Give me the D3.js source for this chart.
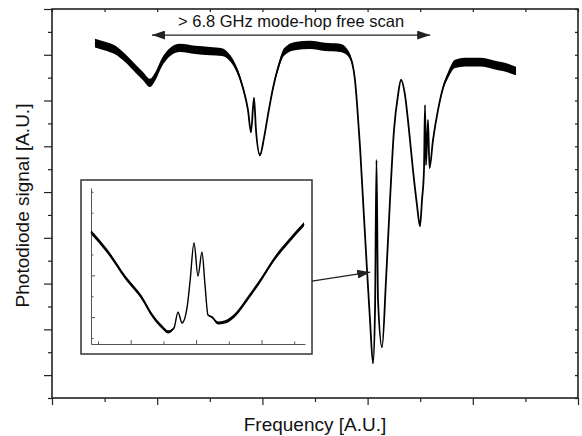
<!DOCTYPE html>
<html>
<head>
<meta charset="utf-8">
<script src="https://cdn.jsdelivr.net/npm/d3@7"></script>
<style>
  body { margin: 0; background: #fff; }
  svg { display: block; font-family: "Liberation Sans", Arial, sans-serif; }
</style>
</head>
<body>
<svg id="chart" width="582" height="436"></svg>
<script>
// main spectrum (frequency / photodiode signal, arbitrary units)
const freq = [
  0.817, 1.008, 1.198, 1.388, 1.578, 1.730, 1.863, 1.958, 2.091, 2.243,
  2.433, 2.719, 3.004, 3.232, 3.384, 3.517, 3.631, 3.726, 3.783, 3.840,
  3.878, 3.954, 4.030, 4.106, 4.202, 4.297, 4.411, 4.620, 4.905, 5.190,
  5.475, 5.608, 5.703, 5.760, 5.798, 5.856, 5.913, 5.989, 6.046, 6.103,
  6.141, 6.169, 6.198, 6.274, 6.350, 6.426, 6.502, 6.578, 6.635, 6.711,
  6.787, 6.863, 6.939, 6.996, 7.034, 7.072, 7.091, 7.110, 7.148, 7.177,
  7.243, 7.338, 7.433, 7.529, 7.662, 7.852, 8.137, 8.422, 8.669, 8.821
];
const signal = [
  14.51, 14.38, 14.21, 13.86, 13.42, 13.07, 12.77, 13.03, 13.68, 14.12,
  14.30, 14.21, 14.16, 14.12, 13.86, 13.33, 12.55, 11.58, 10.62, 12.11,
  10.71, 9.62, 10.36, 11.37, 12.55, 13.42, 14.12, 14.38, 14.43, 14.34,
  14.30, 14.12, 13.68, 12.90, 11.89, 9.97, 7.65, 4.59, 2.40, 0.52,
  2.84, 9.40, 3.28, 1.22, 4.15, 7.65, 10.71, 12.24, 12.90, 12.24,
  10.71, 8.96, 7.43, 6.51, 7.65, 8.96, 11.80, 9.18, 11.15, 9.05,
  10.27, 11.58, 12.55, 13.11, 13.60, 13.68, 13.68, 13.55, 13.42, 13.29
];
// half-width of the noise band around the signal
const noise = [
  0.19, 0.19, 0.19, 0.18, 0.18, 0.18, 0.18, 0.18, 0.18, 0.18,
  0.18, 0.18, 0.18, 0.17, 0.14, 0.12, 0.10, 0.08, 0.06, 0.04,
  0.06, 0.06, 0.06, 0.07, 0.09, 0.12, 0.16, 0.18, 0.18, 0.18,
  0.18, 0.14, 0.10, 0.06, 0.04, 0.04, 0.04, 0.04, 0.04, 0.04,
  0.04, 0.02, 0.02, 0.04, 0.04, 0.04, 0.04, 0.04, 0.04, 0.04,
  0.04, 0.04, 0.04, 0.04, 0.04, 0.04, 0.02, 0.02, 0.02, 0.04,
  0.04, 0.07, 0.10, 0.14, 0.18, 0.19, 0.19, 0.19, 0.19, 0.19
];

// inset: zoom on the deep absorption feature
const insetFreq = [
  -0.214, 0.306, 0.826, 1.346, 1.651, 1.957, 2.141, 2.324, 2.446, 2.569,
  2.722, 2.813, 2.936, 3.058, 3.180, 3.272, 3.364, 3.486, 3.670, 3.884,
  4.190, 4.587, 5.015, 5.413, 5.810, 6.300
];
const insetSignal = [
  5.07, 4.11, 2.92, 1.91, 1.10, 0.53, 0.29, 0.48, 1.24, 0.72,
  1.44, 2.68, 4.55, 2.97, 4.11, 2.54, 1.10, 1.00, 0.72, 0.77,
  1.10, 1.91, 2.87, 3.83, 4.59, 5.45
];
const insetNoise = [
  0.10, 0.10, 0.10, 0.10, 0.10, 0.09, 0.08, 0.04, 0.02, 0.02,
  0.02, 0.02, 0.02, 0.02, 0.02, 0.02, 0.04, 0.05, 0.07, 0.08,
  0.09, 0.10, 0.10, 0.10, 0.10, 0.10
];

const xMajorTicks = [0, 2, 4, 6, 8, 10];
const xMinorTicks = [1, 3, 5, 7, 9];
const yMajorTicks = [0, 2, 4, 6, 8, 10, 12, 14, 16];
const yMinorTicks = [-1, 1, 3, 5, 7, 9, 11, 13, 15];
const insetXMajor = [1, 3, 5];
const insetXMinor = [0, 2, 4, 6];
const insetYMajor = [1, 3, 5];
const insetYMinor = [0, 2, 4, 6, 7];

// annotations (data units)
const scanArrow = { from: 1.90, to: 7.19, level: 14.86, label: "> 6.8 GHz mode-hop free scan" };
const zoomArrow = { from: [4.94, 4.11], to: [6.05, 4.50] };

const margin = { top: 9, right: 4, bottom: 38, left: 52 };
const width = 582 - margin.left - margin.right;
const height = 436 - margin.top - margin.bottom;

const svg = d3.select("#chart");

const defs = svg.append("defs");
defs.append("marker")
  .attr("id", "head")
  .attr("viewBox", "0 0 13 9")
  .attr("refX", 13)
  .attr("refY", 4.5)
  .attr("markerWidth", 13)
  .attr("markerHeight", 9)
  .attr("markerUnits", "userSpaceOnUse")
  .attr("orient", "auto-start-reverse")
  .append("path")
  .attr("d", "M0,0L13,4.5L0,9Z")
  .attr("fill", "#222");

const chart = svg
  .append("g")
  .attr("transform", `translate(${margin.left},${margin.top})`);

const x = d3.scaleLinear().domain([0, 10]).range([0, width]);
const y = d3.scaleLinear().domain([-1, 16]).range([height, 0]);

function tickAxis(axis, values, size) {
  return (g) => {
    g.call(axis.tickValues(values).tickSize(size).tickSizeOuter(0).tickFormat(""));
    g.select(".domain").remove();
    g.selectAll(".tick line").attr("stroke", "#222").attr("stroke-width", 1.2);
  };
}

// outward ticks: left & bottom
chart.append("g").call(tickAxis(d3.axisLeft(y), yMajorTicks, 8));
chart.append("g").call(tickAxis(d3.axisLeft(y), yMinorTicks, 4));
chart.append("g").attr("transform", `translate(0,${height})`)
  .call(tickAxis(d3.axisBottom(x), xMajorTicks, 7));
chart.append("g").attr("transform", `translate(0,${height})`)
  .call(tickAxis(d3.axisBottom(x), xMinorTicks, 4));
// inward ticks: right & top
chart.append("g").attr("transform", `translate(${width},0)`)
  .call(tickAxis(d3.axisLeft(y), yMajorTicks.concat(yMinorTicks), 3));
chart.append("g")
  .call(tickAxis(d3.axisBottom(x), xMajorTicks.concat(xMinorTicks), 3));

chart.append("rect")
  .attr("width", width)
  .attr("height", height)
  .attr("fill", "none")
  .attr("stroke", "#222")
  .attr("stroke-width", 1.6);

// spectrum
const spectrum = freq.map((f, i) => ({ f, s: signal[i], n: noise[i] }));

chart.append("path")
  .datum(spectrum)
  .attr("fill", "#000")
  .attr("d", d3.area()
    .curve(d3.curveMonotoneX)
    .x((d) => x(d.f))
    .y0((d) => y(d.s - d.n))
    .y1((d) => y(d.s + d.n)));

chart.append("path")
  .datum(spectrum)
  .attr("fill", "none")
  .attr("stroke", "#000")
  .attr("stroke-width", 1.8)
  .attr("stroke-linejoin", "round")
  .attr("d", d3.line().curve(d3.curveMonotoneX).x((d) => x(d.f)).y((d) => y(d.s)));

// scan range arrow + label
chart.append("line")
  .attr("x1", x(scanArrow.from))
  .attr("x2", x(scanArrow.to))
  .attr("y1", y(scanArrow.level))
  .attr("y2", y(scanArrow.level))
  .attr("stroke", "#222")
  .attr("stroke-width", 1.3)
  .attr("marker-start", "url(#head)")
  .attr("marker-end", "url(#head)");

chart.append("text")
  .attr("x", x((scanArrow.from + scanArrow.to) / 2))
  .attr("y", y(scanArrow.level) - 8)
  .attr("text-anchor", "middle")
  .attr("font-size", 16.5)
  .attr("fill", "#111")
  .text(scanArrow.label);

// inset
const inset = { left: 29, top: 171, width: 231, height: 174 };
const insetG = chart.append("g")
  .attr("transform", `translate(${inset.left},${inset.top})`);

insetG.append("rect")
  .attr("width", inset.width)
  .attr("height", inset.height)
  .attr("fill", "#fff")
  .attr("stroke", "#333")
  .attr("stroke-width", 1.5);

const ix = d3.scaleLinear().domain([-0.214, 6.33]).range([10, 224]);
const iy = d3.scaleLinear().domain([-0.287, 7.18]).range([164, 8]);

function insetAxis(axis, values, size, keepDomain) {
  return (g) => {
    g.call(axis.tickValues(values).tickSize(size).tickSizeOuter(0).tickFormat(""));
    if (!keepDomain) g.select(".domain").remove();
    g.selectAll("path, line").attr("stroke", "#555").attr("stroke-width", 1);
  };
}

insetG.append("g").attr("transform", `translate(${ix(-0.214)},0)`)
  .call(insetAxis(d3.axisRight(iy), insetYMinor, 2.5, true));
insetG.append("g").attr("transform", `translate(${ix(-0.214)},0)`)
  .call(insetAxis(d3.axisRight(iy), insetYMajor, 4, false));
insetG.append("g").attr("transform", `translate(0,${iy(-0.287)})`)
  .call(insetAxis(d3.axisTop(ix), insetXMinor, 2.5, true));
insetG.append("g").attr("transform", `translate(0,${iy(-0.287)})`)
  .call(insetAxis(d3.axisTop(ix), insetXMajor, 4, false));

const zoomed = insetFreq.map((f, i) => ({ f, s: insetSignal[i], n: insetNoise[i] }));

insetG.append("path")
  .datum(zoomed)
  .attr("fill", "#000")
  .attr("d", d3.area()
    .curve(d3.curveMonotoneX)
    .x((d) => ix(d.f))
    .y0((d) => iy(d.s - d.n))
    .y1((d) => iy(d.s + d.n)));

insetG.append("path")
  .datum(zoomed)
  .attr("fill", "none")
  .attr("stroke", "#000")
  .attr("stroke-width", 1.4)
  .attr("stroke-linejoin", "round")
  .attr("d", d3.line().curve(d3.curveMonotoneX).x((d) => ix(d.f)).y((d) => iy(d.s)));

// arrow from inset to the feature
chart.append("line")
  .attr("x1", x(zoomArrow.from[0]))
  .attr("y1", y(zoomArrow.from[1]))
  .attr("x2", x(zoomArrow.to[0]))
  .attr("y2", y(zoomArrow.to[1]))
  .attr("stroke", "#222")
  .attr("stroke-width", 1.2)
  .attr("marker-end", "url(#head)");

// axis titles
svg.append("text")
  .attr("x", margin.left + width / 2)
  .attr("y", 431)
  .attr("text-anchor", "middle")
  .attr("font-size", 19)
  .attr("fill", "#111")
  .text("Frequency [A.U.]");

svg.append("text")
  .attr("transform", `translate(29,${margin.top + height / 2 + 2}) rotate(-90)`)
  .attr("text-anchor", "middle")
  .attr("font-size", 19)
  .attr("fill", "#111")
  .text("Photodiode signal [A.U.]");
</script>
</body>
</html>
